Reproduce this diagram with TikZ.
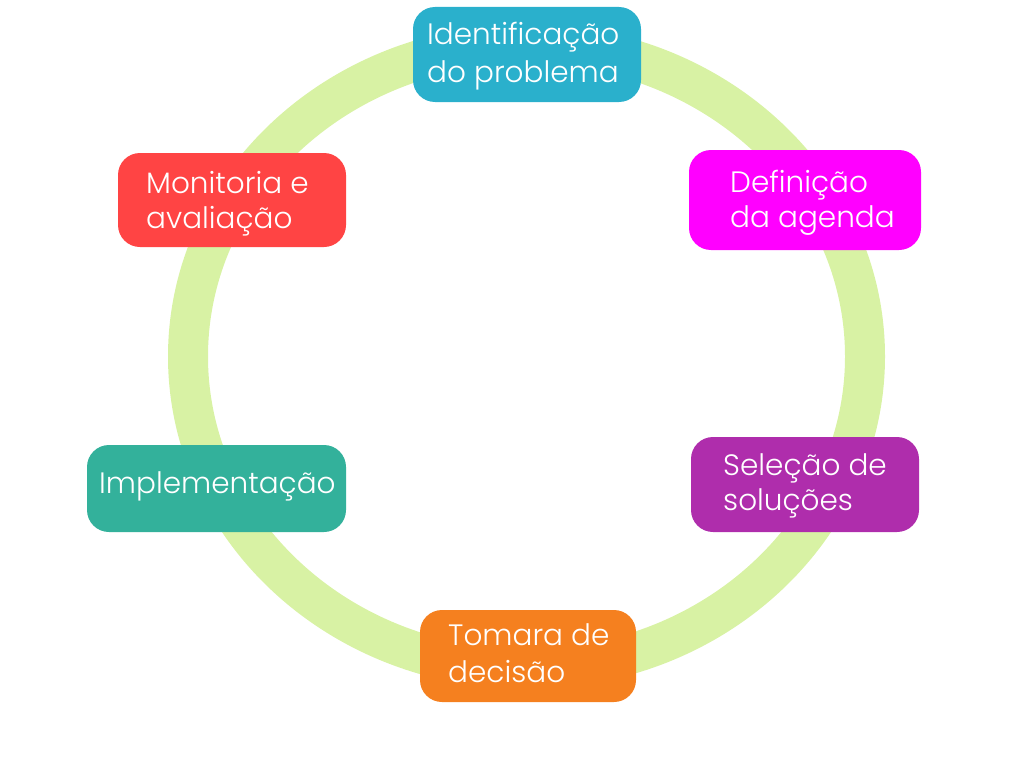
\documentclass[tikz,border=0pt]{standalone}
\usepackage{fontspec}
\setmainfont{Poppins Light}
\definecolor{ringc}{HTML}{D8F2A4}
\definecolor{c1}{HTML}{2AB0CC}
\definecolor{c2}{HTML}{FF00FF}
\definecolor{c3}{HTML}{FF4444}
\definecolor{c4}{HTML}{AF2DAC}
\definecolor{c5}{HTML}{33B19B}
\definecolor{c6}{HTML}{F5801F}
\begin{document}
\begin{tikzpicture}[x=1pt,y=-1pt,
  box/.style={rounded corners=22pt,inner sep=0pt,outer sep=0pt},
  lbl/.style={anchor=base west,inner sep=0pt,text=white,font=\fontsize{29.5}{36}\selectfont}]
\useasboundingbox (0,0) rectangle (1022,768);
\draw[ringc,line width=40pt] (526.5,356.5) ellipse [x radius=338.5, y radius=312.5];
\fill[c1,box] (413,7) rectangle (641,102) coordinate (b1);
\fill[c2,box] (689,150) rectangle (921,250) coordinate (b2);
\fill[c3,box] (118,153) rectangle (346,247) coordinate (b3);
\fill[c4,box] (691,437) rectangle (919,532) coordinate (b4);
\fill[c5,box] (87,445) rectangle (346,532) coordinate (b5);
\fill[c6,box] (420,610) rectangle (636,702) coordinate (b6);
\node[lbl] (t1a) at (427,45) {Identificação};
\node[lbl] (t1b) at (427,82) {do problema};
\node[lbl] (t2a) at (730,192) {Definição};
\node[lbl] (t2b) at (730,227) {da agenda};
\node[lbl] (t3a) at (146,193) {Monitoria e};
\node[lbl] (t3b) at (146,228) {avaliação};
\node[lbl] (t4a) at (723,475) {Seleção de};
\node[lbl] (t4b) at (723,510) {soluções};
\node[lbl] (t5) at (99,493) {Implementação};
\node[lbl] (t6a) at (448,645) {Tomara de};
\node[lbl] (t6b) at (448,682) {decisão};
\end{tikzpicture}
\end{document}
